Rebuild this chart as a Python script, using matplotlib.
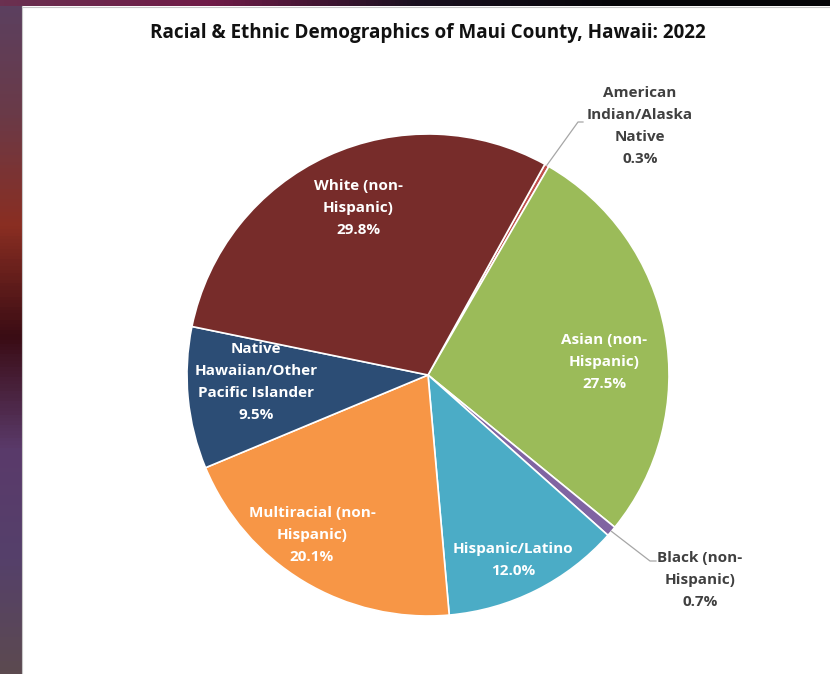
import numpy as np
import matplotlib.pyplot as plt
from matplotlib.colors import LinearSegmentedColormap

categories = ["American\nIndian/Alaska\nNative", "Asian (non-\nHispanic)", "Black (non-\nHispanic)",
              "Hispanic/Latino", "Multiracial (non-\nHispanic)", "Native\nHawaiian/Other\nPacific Islander",
              "White (non-\nHispanic)"]
shares = [0.3, 27.5, 0.7, 12.0, 20.1, 9.5, 29.8]
colors = ["#C0504D", "#9BBB59", "#8064A2", "#4BACC6", "#F79646", "#2C4D75", "#772C2A"]
title = "Racial & Ethnic Demographics of Maui County, Hawaii: 2022"

W, H = 830, 674
plt.rcParams['font.family'] = ['Open Sans', 'DejaVu Sans']
fig = plt.figure(figsize=(W / 100, H / 100), dpi=100)
fig.patch.set_facecolor("white")

# slide background: dark band on top, purple/red strip on the left
bg = fig.add_axes([0, 0, 1, 1])
bg.set_xlim(0, W)
bg.set_ylim(H, 0)
bg.axis("off")
side = LinearSegmentedColormap.from_list("side", ["#5b4060", "#6a3a48", "#8a2e22", "#3a0c14",
                                                 "#5a3a6a", "#55406a", "#5c4a50"])
bg.imshow(np.linspace(0, 1, 200).reshape(-1, 1), cmap=side, aspect="auto",
          extent=[0, 22, H, 0], zorder=0)
top = LinearSegmentedColormap.from_list("top", ["#6a3050", "#701c48", "#1a1020", "#050508", "#050508"])
bg.imshow(np.linspace(0, 1, 200).reshape(1, -1), cmap=top, aspect="auto",
          extent=[0, W, 6, 0], zorder=0)
bg.plot([22, 22], [6, H], color="#c8c8c8", lw=0.8)
bg.plot([22, W], [6.5, 6.5], color="#c8c8c8", lw=0.8)

fig.text(428 / W, 1 - 33 / H, title, ha="center", va="center", fontsize=13.6,
         fontweight="bold", color="#111111")

cx, cy, r = 428, 375, 241
ax = fig.add_axes([(cx - r) / W, 1 - (cy + r) / H, 2 * r / W, 2 * r / H])
wedges, _ = ax.pie(shares, colors=colors, startangle=61, counterclock=False,
                   wedgeprops=dict(edgecolor="white", linewidth=1.2))
ax.set_xlim(-1, 1)
ax.set_ylim(-1, 1)
ax.axis("off")

def px(x, y):
    return (x - cx) / r, (cy - y) / r

inside = {1: (604, 362), 3: (513, 560), 4: (312, 535), 5: (256, 382), 6: (358, 208)}
outside = {0: (640, 126), 2: (700, 580)}
for i, pos in inside.items():
    ax.text(*px(*pos), f"{categories[i]}\n{shares[i]:.1f}%", ha="center", va="center",
            color="white", fontsize=11, fontweight="bold", linespacing=1.75)
for i, pos in outside.items():
    w = wedges[i]
    ang = np.deg2rad((w.theta1 + w.theta2) / 2)
    tx, ty = px(*pos)
    ax.text(tx, ty, f"{categories[i]}\n{shares[i]:.1f}%", ha="center", va="center",
            color="#404040", fontsize=11, fontweight="bold", linespacing=1.75)
    if i == 0:
        elbow = px(578, 122)
        end = px(583, 122)
    else:
        elbow = px(650, 561)
        end = px(656, 561)
    ax.plot([np.cos(ang), elbow[0], end[0]], [np.sin(ang), elbow[1], end[1]],
            color="#a6a6a6", lw=0.9, clip_on=False)

fig.savefig("out.png", dpi=100)
